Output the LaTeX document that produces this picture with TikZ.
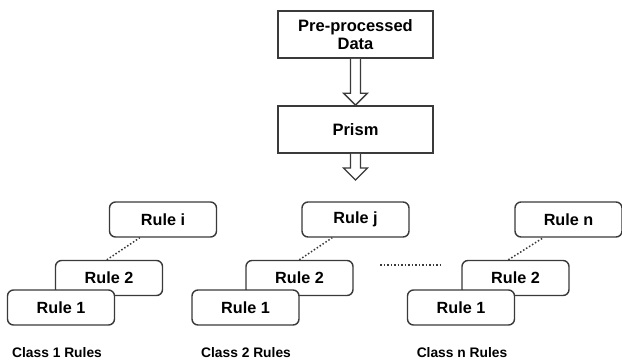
\documentclass[tikz,border=0pt]{standalone}
\usepackage{fontspec}
\setmainfont{Liberation Sans}
\usetikzlibrary{calc}
\definecolor{edge}{HTML}{3A3A3A}
\tikzset{
  topbox/.style={draw=edge, line width=1.6pt, fill=white, minimum width=155pt, minimum height=47pt, inner sep=0pt, align=center, font=\fontsize{16.5}{18}\selectfont\bfseries},
  rulebox/.style={draw=edge, line width=1.4pt, rounded corners=6pt, fill=white, minimum width=107pt, minimum height=35pt, inner sep=0pt, font=\fontsize{16.2}{18}\selectfont\bfseries},
  classlbl/.style={inner sep=0pt, font=\fontsize{13.8}{16}\selectfont\bfseries},
  dotline/.style={draw=edge, line width=1.5pt, dotted, line cap=butt},
  hollow/.style={draw=edge, line width=1.4pt, fill=white, line join=miter}
}
\begin{document}
\begin{tikzpicture}[x=1pt,y=-1pt]
\useasboundingbox (0,0) rectangle (622,360);
% top flow
\node[topbox] (pre) at (355.5,34.5) {Pre-processed\\Data};
\node[topbox] (prism) at (355.5,129.5) {Prism};
\coordinate (out) at (355.5,180);
% hollow arrows
\draw[hollow] ($(pre.south)+(-5,0)$) -- ($(prism.north)+(-5,-12)$) -- ($(prism.north)+(-12,-12)$) -- (prism.north) -- ($(prism.north)+(12,-12)$) -- ($(prism.north)+(5,-12)$) -- ($(pre.south)+(5,0)$);
\draw[hollow] ($(prism.south)+(-5,0)$) -- ($(out)+(-5,-12)$) -- ($(out)+(-12,-12)$) -- (out) -- ($(out)+(12,-12)$) -- ($(out)+(5,-12)$) -- ($(prism.south)+(5,0)$);
% class 1
\node[rulebox] (ri) at (163,219.5) {Rule i};
\node[rulebox] (c1r2) at (109,278) {Rule 2};
\node[rulebox] (c1r1) at (61,307.5) {Rule 1};
\draw[dotline] ($(c1r2.north west)+(52,0)$) -- ($(ri.south west)+(31,0)$);
\node[classlbl] (c1) at (57,352.5) {Class 1 Rules};
% class 2
\node[rulebox] (rj) at (355.5,219.5) {Rule j};
\node[rulebox] (c2r2) at (299.5,278) {Rule 2};
\node[rulebox] (c2r1) at (245.5,307.5) {Rule 1};
\draw[dotline] ($(c2r2.north west)+(54,0)$) -- ($(rj.south west)+(31,0)$);
\node[classlbl] (c2) at (246,352.5) {Class 2 Rules};
% gap
\coordinate (g1) at (380,265);
\coordinate (g2) at (440,265);
\draw[dotline] (g1) -- (g2);
% class n
\node[rulebox] (rn) at (568.5,219.5) {Rule n};
\node[rulebox] (cnr2) at (515.5,278) {Rule 2};
\node[rulebox] (cnr1) at (461,307.5) {Rule 1};
\draw[dotline] ($(cnr2.north west)+(47,0)$) -- ($(rn.south west)+(29,0)$);
\node[classlbl] (cn) at (462,352.5) {Class n Rules};
\end{tikzpicture}
\end{document}
